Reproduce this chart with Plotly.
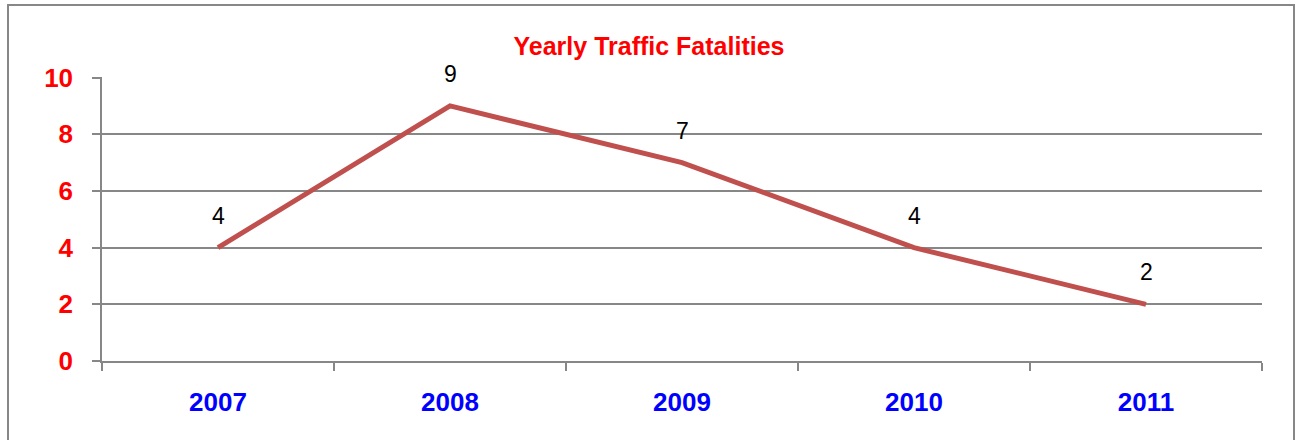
import plotly.graph_objects as go

years = ["2007", "2008", "2009", "2010", "2011"]
fatalities = [4, 9, 7, 4, 2]
y_ticks = [0, 2, 4, 6, 8, 10]

W, H = 1298, 440
L, R, T, B = 102, 36, 77, 79
pw, ph = W - L - R, H - T - B
FONT = "Liberation Sans, Arial, sans-serif"

fig = go.Figure()
fig.add_trace(go.Scatter(
    x=years, y=fatalities, mode="lines",
    line=dict(color="#C0504D", width=5),
    hoverinfo="skip", showlegend=False,
))
for i, v in enumerate(fatalities):
    fig.add_annotation(x=i, y=v, text=str(v), showarrow=False, yshift=32,
                       font=dict(family=FONT, size=23, color="black"))

fig.add_shape(type="rect", xref="paper", yref="paper", layer="below",
              x0=(8 - L) / pw, x1=(1294 - L) / pw,
              y0=(H - B - 460) / ph, y1=(H - B - 5) / ph,
              line=dict(color="#878787", width=2), fillcolor="rgba(0,0,0,0)")

fig.update_layout(
    width=W, height=H,
    margin=dict(l=L, r=R, t=T, b=B),
    paper_bgcolor="white", plot_bgcolor="white",
    title=dict(text="<b>Yearly Traffic Fatalities</b>", x=0.5, xanchor="center",
               y=1 - 46 / H, yanchor="middle",
               font=dict(family=FONT, size=25, color="#FF0000")),
    xaxis=dict(type="category", range=[-0.5, 4.5], tickson="boundaries",
               ticks="outside", ticklen=8, tickcolor="#878787", tickwidth=1.5,
               showline=True, linecolor="#878787", linewidth=1.5,
               showgrid=False, zeroline=False, ticklabelstandoff=17,
               tickfont=dict(family=FONT, size=26, color="#0000FF", weight="bold")),
    yaxis=dict(range=[0, 10.02], tickvals=y_ticks, ticks="outside", ticklen=8,
               tickcolor="#878787", tickwidth=1.5,
               showline=True, linecolor="#878787", linewidth=1.5,
               showgrid=True, gridcolor="#878787", gridwidth=1.5, zeroline=False,
               ticklabelstandoff=14,
               tickfont=dict(family=FONT, size=26, color="#FF0000", weight="bold")),
)
fig.write_html("out.html", config={"displayModeBar": False},
               post_script="document.body.style.margin='0';document.body.style.overflow='hidden';")
